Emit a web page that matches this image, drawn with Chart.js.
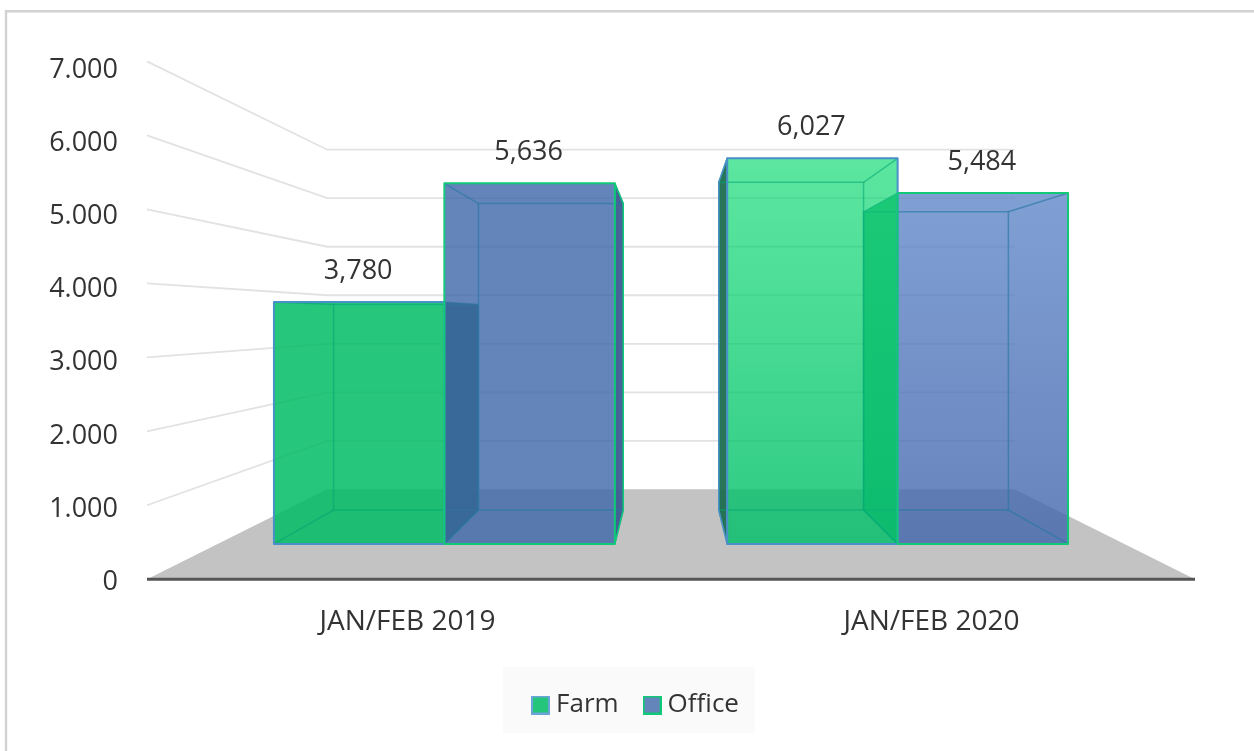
<!DOCTYPE html>
<html>
<head>
<meta charset="utf-8">
<style>html,body{margin:0;padding:0;background:#fff}canvas{display:block;filter:blur(0.5px)}</style>
<script src="https://cdn.jsdelivr.net/npm/chart.js@4"></script>
</head>
<body>
<canvas id="c" width="1254" height="751"></canvas>
<script>
const categories = ['JAN/FEB 2019', 'JAN/FEB 2020'];
const farmValues = [3780, 6027];
const officeValues = [5636, 5484];
const yTickLabels = ['0', '1.000', '2.000', '3.000', '4.000', '5.000', '6.000', '7.000'];
const valueLabelsFarm = ['3,780', '6,027'];
const valueLabelsOffice = ['5,636', '5,484'];

const FONT = '"Open Sans"';
const TEXT = '#333333';
const VP = {x: 671, y: 318};
const K_WALL = 0.656, K_BAR_FRONT = 0.865, K_BAR_BACK = 0.735;
const STRETCH = 1.0105, FLOOR_SHIFT = -3.2;

const styles = {
  Farm: {
    border: '#4a90c8', inner: 'rgba(0,165,115,0.55)',
    strip: ['rgba(30,110,80,0.95)', 'rgba(30,110,80,0.95)'],
    top: ['rgba(0,188,100,0.85)', 'rgba(5,217,109,0.65)'],
    bottom: ['rgba(0,188,100,0.85)', 'rgba(0,190,105,0.82)']
  },
  Office: {
    border: '#10c878', inner: 'rgba(40,120,165,0.65)',
    strip: ['rgba(60,92,145,0.95)', 'rgba(60,170,130,0.95)'],
    top: ['rgba(61,102,169,0.8)', 'rgba(96,136,201,0.8)'],
    bottom: ['rgba(61,102,169,0.8)', 'rgba(65,100,172,0.8)']
  }
};

function swatch(fill, stroke) {
  const c = document.createElement('canvas');
  c.width = 19; c.height = 19;
  const g = c.getContext('2d');
  g.fillStyle = fill; g.fillRect(1, 1, 17, 17);
  g.strokeStyle = stroke; g.lineWidth = 2; g.strokeRect(1, 1, 17, 17);
  return c;
}

function project(chart, px, py, k) {
  const base = chart.scales.y.getPixelForValue(0);
  const yf = base + FLOOR_SHIFT + (py - base) * STRETCH;
  return {x: VP.x + (px - VP.x) * k, y: VP.y + (yf - VP.y) * k};
}
function poly(ctx, pts) {
  ctx.beginPath();
  pts.forEach((p, i) => i ? ctx.lineTo(p.x, p.y) : ctx.moveTo(p.x, p.y));
  ctx.closePath();
}

const scene = {
  id: 'scene',
  afterLayout(chart) {
    const lg = chart.legend;
    lg.left += 21; lg.right += 21;
    const dy = 661 - lg.top;
    lg.top += dy; lg.bottom += dy;
  },
  beforeDraw(chart) {
    const ctx = chart.ctx, x = chart.scales.x, y = chart.scales.y;
    const l = x.left, r = x.right, y0 = y.getPixelForValue(0);
    ctx.save();
    ctx.fillStyle = '#fff'; ctx.fillRect(0, 0, chart.width, chart.height);
    ctx.strokeStyle = '#d2d2d2'; ctx.lineWidth = 2.4;
    ctx.beginPath(); ctx.moveTo(6, chart.height); ctx.lineTo(6, 11.3); ctx.lineTo(chart.width, 11.3); ctx.stroke();
    ctx.fillStyle = '#fafafa'; ctx.fillRect(503, 667, 252, 66);
    ctx.restore();

    ctx.save();
    // floor
    poly(ctx, [project(chart, l, y0, 1), project(chart, r, y0, 1), project(chart, r, y0, K_WALL), project(chart, l, y0, K_WALL)]);
    ctx.fillStyle = '#c3c3c3'; ctx.fill();
    // side and back wall lines
    ctx.strokeStyle = '#e2e2e2'; ctx.lineWidth = 1.8;
    y.ticks.forEach(t => {
      if (t.value === 0) return;
      const py = y.getPixelForValue(t.value);
      const a = project(chart, l, py, 1), b = project(chart, l, py, K_WALL), c = project(chart, r, py, K_WALL);
      ctx.beginPath(); ctx.moveTo(a.x, a.y); ctx.lineTo(b.x, b.y); ctx.lineTo(c.x, c.y); ctx.stroke();
    });
    // front axis line
    const a = project(chart, l, y0, 1), b = project(chart, r, y0, 1);
    ctx.strokeStyle = '#555555'; ctx.lineWidth = 3;
    ctx.beginPath(); ctx.moveTo(a.x, a.y); ctx.lineTo(b.x, b.y); ctx.stroke();
    ctx.restore();
  },
  beforeDatasetsDraw(chart) {
    const ctx = chart.ctx;
    const faces = (dsIndex, i) => {
      const el = chart.getDatasetMeta(dsIndex).data[i];
      const L = el.x - el.width / 2, R = el.x + el.width / 2;
      const f = k => ({
        tl: project(chart, L, el.y, k), tr: project(chart, R, el.y, k),
        br: project(chart, R, el.base, k), bl: project(chart, L, el.base, k)
      });
      return {front: f(K_BAR_FRONT), back: f(K_BAR_BACK), st: styles[chart.data.datasets[dsIndex].label], dsIndex};
    };
    const body = ({front: F, back: B, st}, i) => {
      // side strip outside the front face
      ctx.fillStyle = st.strip[i];
      if (B.tl.x < F.tl.x) { poly(ctx, [F.tl, B.tl, B.bl, F.bl]); ctx.fill(); }
      if (B.tr.x > F.tr.x) { poly(ctx, [F.tr, B.tr, B.br, F.br]); ctx.fill(); }
      // front face
      const g = ctx.createLinearGradient(0, F.tl.y, 0, F.bl.y);
      g.addColorStop(0, st.top[i]); g.addColorStop(1, st.bottom[i]);
      poly(ctx, [F.tl, F.tr, F.br, F.bl]);
      ctx.fillStyle = g; ctx.fill();
      // inner box edges
      ctx.strokeStyle = st.inner; ctx.lineWidth = 1.5;
      poly(ctx, [B.tl, B.tr, B.br, B.bl]); ctx.stroke();
      ['tl', 'tr', 'br', 'bl'].forEach(c => {
        ctx.beginPath(); ctx.moveTo(F[c].x, F[c].y); ctx.lineTo(B[c].x, B[c].y); ctx.stroke();
      });
    };
    const outline = ({front: F, back: B, st, dsIndex}) => {
      ctx.strokeStyle = st.border; ctx.lineWidth = 2; ctx.lineJoin = 'round';
      poly(ctx, [F.tl, F.tr, F.br, F.bl]); ctx.stroke();
      // Outer side edge, only on the side that faces away from the neighbour bar
      ctx.lineWidth = 1.5;
      if (dsIndex === 0 && B.tl.x < F.tl.x) { poly(ctx, [F.tl, B.tl, B.bl, F.bl]); ctx.stroke(); }
      if (dsIndex === 1 && B.tr.x > F.tr.x) { poly(ctx, [F.tr, B.tr, B.br, F.br]); ctx.stroke(); }
    };
    ctx.save();
    // Painter's order: bars nearer the vanishing point go last
    categories.forEach((_, i) => {
      const farm = faces(0, i), office = faces(1, i);
      if (farm.front.tr.x <= VP.x) { body(farm, i); body(office, i); }
      else { body(office, i); body(farm, i); }
      outline(farm); outline(office);
    });
    // Value labels above the front face
    ctx.fillStyle = TEXT; ctx.textAlign = 'center'; ctx.textBaseline = 'middle';
    ctx.font = '27px ' + FONT;
    const lab = [valueLabelsFarm, valueLabelsOffice];
    [0, 1].forEach(d => categories.forEach((_, i) => {
      const F = faces(d, i).front;
      ctx.fillText(lab[d][i], (F.tl.x + F.tr.x) / 2 - 1, F.tl.y - 31);
    }));
    ctx.restore();
  },
  beforeDatasetDraw() { return false; }
};

const swatches = [swatch('#26c57c', '#6aa5d8'), swatch('#6485ba', '#10c878')];

new Chart(document.getElementById('c'), {
  type: 'bar',
  data: {
    labels: categories,
    datasets: [
      {label: 'Farm', data: farmValues, backgroundColor: '#26c57c', borderColor: '#4a90c8', borderWidth: 2},
      {label: 'Office', data: officeValues, backgroundColor: '#6485ba', borderColor: '#10c878', borderWidth: 2}
    ]
  },
  plugins: [scene],
  options: {
    responsive: false,
    animation: false,
    layout: {padding: {left: 40, right: 59, top: 70, bottom: 30}},
    datasets: {bar: {barPercentage: 1, categoryPercentage: 0.752}},
    plugins: {
      tooltip: {enabled: false},
      legend: {
        position: 'bottom',
        labels: {
          boxWidth: 5, boxHeight: 5, padding: 31, usePointStyle: true, color: TEXT,
          font: {family: FONT, size: 26},
          generateLabels: c => Chart.defaults.plugins.legend.labels.generateLabels(c)
            .map((it, i) => ({...it, pointStyle: swatches[i]}))
        }
      }
    },
    scales: {
      x: {
        grid: {display: false}, border: {display: false},
        ticks: {color: TEXT, font: {family: FONT, size: 28}, padding: 15, labelOffset: -1.5, maxRotation: 0}
      },
      y: {
        min: 0, max: 7000,
        grid: {display: false}, border: {display: false},
        afterFit(s) { s.width = 107; },
        ticks: {
          stepSize: 1000, padding: 21, color: TEXT, font: {family: FONT, size: 27},
          callback: v => yTickLabels[v / 1000]
        }
      }
    }
  }
});
</script>
</body>
</html>
